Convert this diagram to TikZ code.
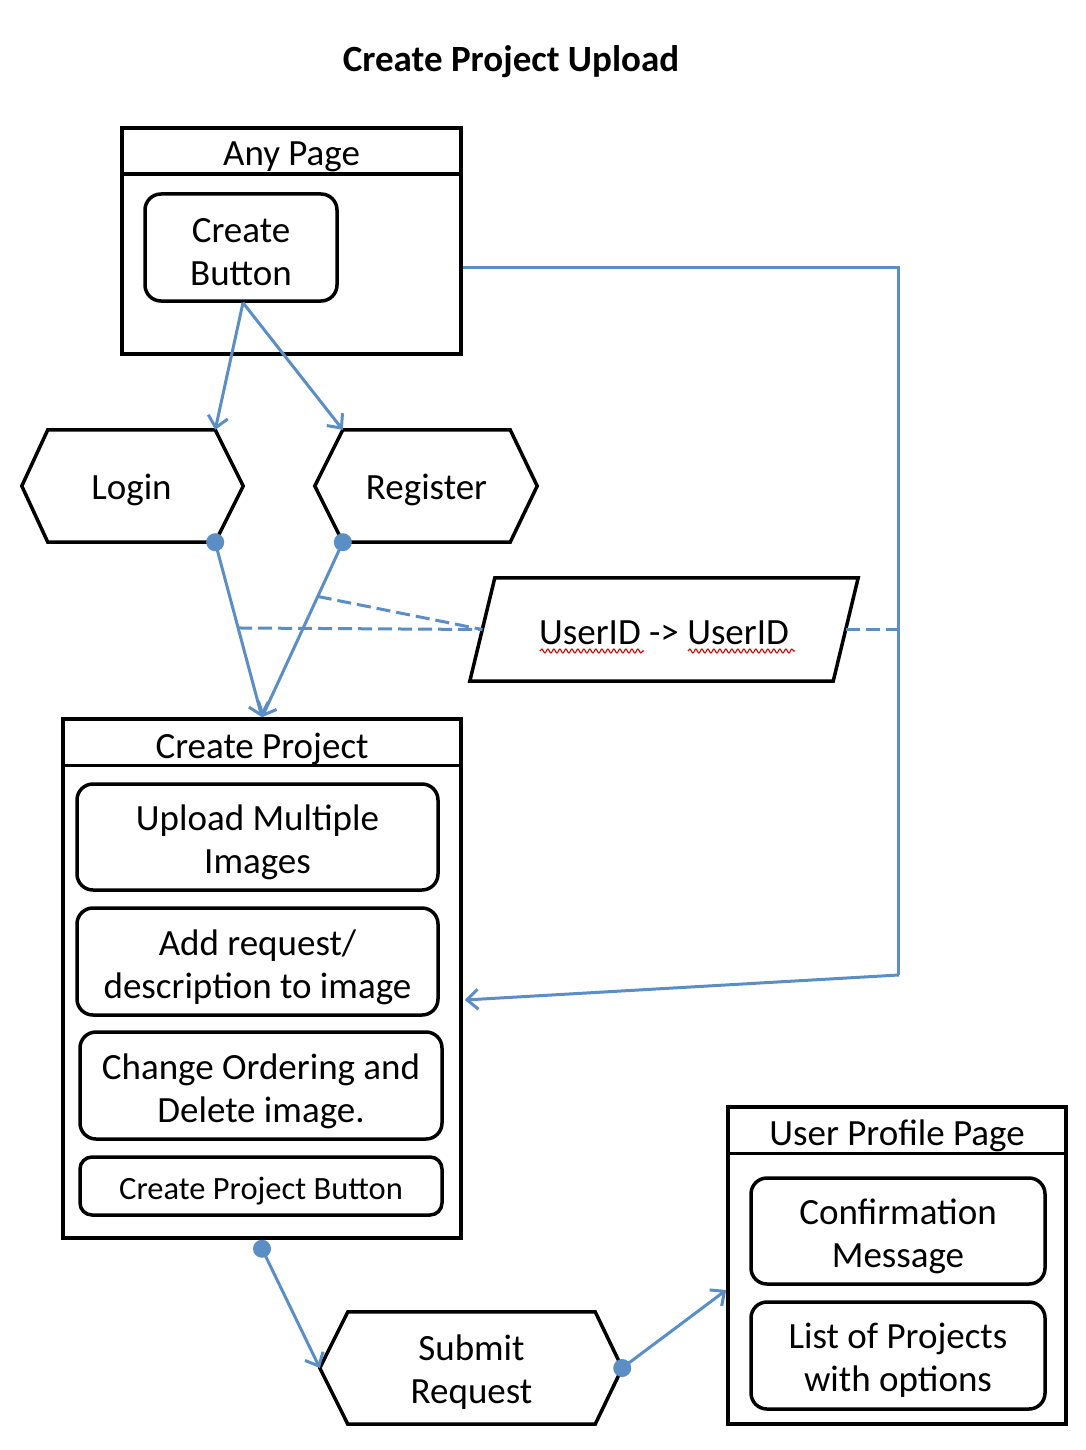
\documentclass[tikz,border=0pt]{standalone}
\usepackage{fontspec}
\setmainfont{Carlito}
\usetikzlibrary{calc,arrows.meta,decorations.pathmorphing}
\definecolor{flowblue}{HTML}{5B8EC4}
\tikzset{
  txt/.style={font=\fontsize{37}{43}\selectfont},
  box/.style={draw=black,line width=3.5pt,inner sep=0pt,txt,align=center},
  rbox/.style={box,rounded corners=16pt},
  ghost/.style={inner sep=0pt,txt,align=center},
  outline/.style={draw=black,line width=3.5pt,line join=miter},
  flow/.style={draw=flowblue,line width=3pt},
  flowarrow/.style={flow,-{Straight Barb[length=11pt,width=20pt,line width=3pt]}},
  flowdash/.style={flow,dash pattern=on 14pt off 6pt},
  dot/.style={circle,fill=flowblue,inner sep=0pt,minimum size=18pt},
  squiggle/.style={draw=red!85!black,line width=1.1pt,decorate,decoration={snake,segment length=6pt,amplitude=2pt}}
}
\begin{document}
\begin{tikzpicture}[x=1pt,y=-1pt]
\useasboundingbox (0,0) rectangle (1086,1450);
% title
\node[font=\fontsize{37}{43}\selectfont\bfseries] (title) at (511,62) {Create Project Upload};

% Any Page
\node[box,minimum width=339pt,minimum height=226pt] (anypage) at (291.5,241) {};
\draw[line width=3.5pt] ($(anypage.north west)+(0,48)$) -- ($(anypage.north east)+(0,48)$);
\node[ghost] (anypagetitle) at (291.5,157) {Any Page};
\node[rbox,minimum width=192pt,minimum height=107pt] (createbtn) at (241,247.5) {};
\node[ghost] (createbtntxt) at ($(createbtn.center)+(0,4.5)$) {Create\\Button};

% Login / Register hexagons
\node[ghost,minimum width=167pt,minimum height=112pt] (login) at (131.5,490) {Login};
\draw[outline] ($(login.west)+(-26,-4)$) -- ($(login.north west)+(0,-4)$) -- ($(login.north east)+(0,-4)$) coordinate (loginin) -- ($(login.east)+(28,-4)$) -- ($(login.south east)+(0,-4)$) coordinate (logdot) -- ($(login.south west)+(0,-4)$) -- cycle;
\node[ghost,minimum width=167pt,minimum height=112pt] (register) at (426.5,490) {Register};
\draw[outline] ($(register.west)+(-28,-4)$) -- ($(register.north west)+(0,-4)$) coordinate (regin) -- ($(register.north east)+(0,-4)$) -- ($(register.east)+(27,-4)$) -- ($(register.south east)+(0,-4)$) -- ($(register.south west)+(0,-4)$) coordinate (regdot) -- cycle;

% UserID parallelogram
\node[ghost,minimum width=363pt,minimum height=103pt] (userid) at (664,633) {UserID -> UserID};
\coordinate (uidw) at ($(userid.west)+(0,-3.5)$);
\coordinate (uide) at ($(userid.east)+(0,-3.5)$);
\draw[outline] ($(userid.north west)+(12.5,-3.5)$) -- ($(userid.north east)+(12.5,-3.5)$) -- ($(userid.south east)+(-12.5,-3.5)$) -- ($(userid.south west)+(-12.5,-3.5)$) -- cycle;
\draw[squiggle] ($(userid.center)+(-124,18)$) -- ($(userid.center)+(-20,18)$);
\draw[squiggle] ($(userid.center)+(24,18)$) -- ($(userid.center)+(131,18)$);

% Create Project
\node[box,minimum width=398pt,minimum height=519pt] (cp) at (262,978.5) {};
\draw[line width=3.5pt] ($(cp.north west)+(0,48)$) -- ($(cp.north east)+(0,48)$);
\node[ghost] (cptitle) at (262,749) {Create Project};
\node[rbox,minimum width=361pt,minimum height=106pt] (upload) at (257.5,837) {};
\node[ghost] (uploadtxt) at ($(upload.center)+(0,5.5)$) {Upload Multiple\\Images};
\node[rbox,minimum width=361pt,minimum height=107pt] (addreq) at (257.5,961.5) {};
\node[ghost] (addreqtxt) at ($(addreq.center)+(0,6)$) {Add request/\\description to image};
\node[rbox,minimum width=362pt,minimum height=107pt] (order) at (261,1085.5) {};
\node[ghost] (ordertxt) at ($(order.center)+(0,6)$) {Change Ordering and\\Delete image.};
\node[rbox,rounded corners=12pt,minimum width=362pt,minimum height=58pt] (cpbtn) at (261,1186) {};
\node[ghost,font=\fontsize{32.5}{38}\selectfont] (cpbtntxt) at ($(cpbtn.center)+(0,5.5)$) {Create Project Button};

% Submit Request
\node[ghost,minimum width=247pt,minimum height=112pt] (submit) at (471.5,1372) {Submit\\Request};
\draw[outline] ($(submit.west)+(-28,-4)$) coordinate (subl) -- ($(submit.north west)+(0,-4)$) -- ($(submit.north east)+(0,-4)$) -- ($(submit.east)+(27,-4)$) coordinate (subr) -- ($(submit.south east)+(0,-4)$) -- ($(submit.south west)+(0,-4)$) -- cycle;

% User Profile Page
\node[box,minimum width=338pt,minimum height=317pt] (upp) at (897,1265.5) {};
\draw[line width=3.5pt] ($(upp.north west)+(0,48)$) -- ($(upp.north east)+(0,48)$);
\node[ghost] (upptitle) at (897,1136) {User Profile Page};
\node[rbox,minimum width=294pt,minimum height=106pt] (confirm) at (898,1231) {};
\node[ghost] (confirmtxt) at ($(confirm.center)+(0,5)$) {Confirmation\\Message};
\node[rbox,minimum width=294pt,minimum height=107pt] (projlist) at (898,1355.5) {};
\node[ghost] (projlisttxt) at ($(projlist.center)+(0,5)$) {List of Projects\\with options};

% connectors
\coordinate (btnout) at ($(createbtn.south)+(2,0)$);
\draw[flowarrow] (btnout) -- (loginin);
\draw[flowarrow] (btnout) -- (regin);

\draw[flowarrow] (logdot) -- (cp.north);
\draw[flowarrow] (regdot) -- (cp.north);
\node[dot] (logdotn) at (logdot) {};
\node[dot] (regdotn) at (regdot) {};

\coordinate (dashA) at ($(logdot)!0.49!(cp.north)$);
\coordinate (dashB) at ($(regdot)!0.31!(cp.north)$);
\draw[flowdash] (dashA) -- (uidw);
\draw[flowdash] (dashB) -- (uidw);

\coordinate (routeStart) at ($(anypage.east)+(0,26)$);
\coordinate (routeCorner) at ($(routeStart)+(436,0)$);
\coordinate (routeLow) at ($(routeCorner)+(0,708)$);
\coordinate (routeEnd) at ($(cp.east)+(2,21.5)$);
\draw[flow,line join=miter] (routeStart) -- (routeCorner) -- (routeLow);
\draw[flowarrow] (routeLow) -- (routeEnd);
\draw[flowdash] (uide) -- (uide -| routeCorner);

\coordinate (cpdot) at ($(cp.south)+(0,9)$);
\draw[flowarrow] (cpdot) -- (subl);
\node[dot] (cpdotn) at (cpdot) {};
\coordinate (uppin) at ($(upp.west)+(0,24.5)$);
\draw[flowarrow] (subr) -- (uppin);
\node[dot] (subdotn) at (subr) {};
\end{tikzpicture}
\end{document}
